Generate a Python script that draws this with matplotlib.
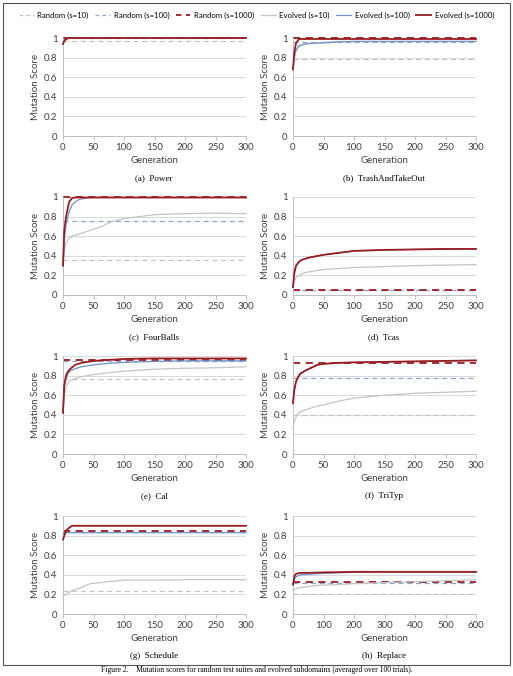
import numpy as np
import matplotlib.pyplot as plt
from matplotlib.lines import Line2D
from matplotlib.patches import Rectangle

# panel titles
titles = ["(a)  Power", "(b)  TrashAndTakeOut", "(c)  FourBalls", "(d)  Tcas",
          "(e)  Cal", "(f)  TriTyp", "(g)  Schedule", "(h)  Replace"]

# generations sampled for each panel
gens_a = [0, 2, 5, 10, 15, 300]
gens_b = [0, 2, 5, 10, 15, 20, 30, 50, 75, 100, 150, 200, 300]
gens_c = [0, 2, 5, 10, 15, 20, 25, 30, 40, 50, 60, 70, 80, 100, 125, 150, 200, 250, 300]
gens_d = [0, 2, 5, 10, 15, 25, 50, 75, 100, 150, 200, 250, 300]
gens_e = [0, 2, 5, 8, 12, 20, 30, 50, 75, 100, 150, 200, 250, 300]
gens_f = [0, 2, 5, 8, 12, 20, 30, 40, 50, 75, 100, 150, 200, 250, 300]
gens_g = [0, 5, 10, 15, 20, 30, 40, 45, 60, 75, 100, 150, 200, 250, 300]
gens_h = [0, 5, 10, 25, 50, 75, 100, 150, 200, 300, 400, 500, 600]

# random baselines (s=10, s=100, s=1000)
rand_a = [0.965, 1.0, 1.0]
rand_b = [0.79, 0.96, 1.0]
rand_c = [0.36, 0.76, 1.0]
rand_d = [0.055, 0.055, 0.055]
rand_e = [0.77, 0.945, 0.955]
rand_f = [0.40, 0.78, 0.925]
rand_g = [0.235, 0.84, 0.85]
rand_h = [0.20, 0.32, 0.325]

# evolved s=10
ev10_a = [0.94, 0.97, 0.99, 1.0, 1.0, 1.0]
ev10_b = [0.68, 0.8, 0.87, 0.91, 0.93, 0.94, 0.945, 0.955, 0.965, 0.965, 0.965, 0.965, 0.965]
ev10_c = [0.30, 0.45, 0.53, 0.58, 0.6, 0.61, 0.62, 0.63, 0.65, 0.67, 0.69, 0.72, 0.75, 0.78, 0.8, 0.82, 0.83, 0.835, 0.83]
ev10_d = [0.08, 0.14, 0.18, 0.2, 0.22, 0.235, 0.26, 0.27, 0.28, 0.29, 0.30, 0.305, 0.31]
ev10_e = [0.42, 0.6, 0.68, 0.72, 0.75, 0.77, 0.79, 0.81, 0.83, 0.845, 0.865, 0.875, 0.88, 0.89]
ev10_f = [0.27, 0.33, 0.38, 0.41, 0.43, 0.45, 0.47, 0.49, 0.50, 0.54, 0.57, 0.60, 0.62, 0.63, 0.64]
ev10_g = [0.18, 0.2, 0.22, 0.24, 0.25, 0.27, 0.3, 0.31, 0.32, 0.33, 0.345, 0.345, 0.35, 0.35, 0.35]
ev10_h = [0.24, 0.25, 0.26, 0.27, 0.28, 0.29, 0.295, 0.3, 0.31, 0.32, 0.33, 0.34, 0.35]

# evolved s=100
ev100_a = [0.94, 0.97, 0.99, 1.0, 1.0, 1.0]
ev100_b = [0.68, 0.8, 0.88, 0.92, 0.93, 0.94, 0.945, 0.95, 0.96, 0.965, 0.965, 0.965, 0.965]
ev100_c = [0.30, 0.55, 0.72, 0.85, 0.92, 0.95, 0.97, 0.98, 0.99, 0.995, 0.995, 0.995, 0.995, 0.995, 0.995, 0.995, 0.995, 0.995, 0.995]
ev100_d = [0.08, 0.22, 0.3, 0.34, 0.36, 0.38, 0.41, 0.43, 0.45, 0.46, 0.465, 0.47, 0.47]
ev100_e = [0.42, 0.68, 0.77, 0.82, 0.85, 0.87, 0.89, 0.91, 0.925, 0.935, 0.945, 0.95, 0.95, 0.95]
ev100_f = [0.52, 0.65, 0.74, 0.78, 0.82, 0.85, 0.88, 0.91, 0.92, 0.93, 0.935, 0.94, 0.945, 0.95, 0.955]
ev100_g = [0.82, 0.83, 0.83, 0.83, 0.83, 0.83, 0.83, 0.83, 0.83, 0.83, 0.83, 0.83, 0.83, 0.83, 0.83]
ev100_h = [0.30, 0.36, 0.38, 0.4, 0.405, 0.41, 0.415, 0.42, 0.425, 0.43, 0.43, 0.43, 0.43]

# evolved s=1000
ev1000_a = [0.94, 0.97, 0.99, 1.0, 1.0, 1.0]
ev1000_b = [0.68, 0.85, 0.95, 0.99, 0.99, 0.99, 0.99, 0.99, 0.99, 0.99, 0.99, 0.99, 0.99]
ev1000_c = [0.30, 0.65, 0.8, 0.95, 0.99, 0.995, 0.995, 0.995, 0.995, 0.995, 0.995, 0.995, 0.995, 0.995, 0.995, 0.995, 0.995, 0.995, 0.995]
ev1000_d = [0.08, 0.22, 0.3, 0.34, 0.36, 0.38, 0.41, 0.43, 0.45, 0.46, 0.465, 0.47, 0.47]
ev1000_e = [0.42, 0.7, 0.8, 0.84, 0.87, 0.91, 0.93, 0.95, 0.96, 0.97, 0.975, 0.975, 0.975, 0.975]
ev1000_f = [0.52, 0.65, 0.74, 0.78, 0.82, 0.85, 0.88, 0.91, 0.92, 0.93, 0.935, 0.94, 0.945, 0.95, 0.955]
ev1000_g = [0.76, 0.85, 0.88, 0.9, 0.9, 0.9, 0.9, 0.9, 0.9, 0.9, 0.9, 0.9, 0.9, 0.9, 0.9]
ev1000_h = [0.30, 0.39, 0.41, 0.42, 0.42, 0.422, 0.425, 0.427, 0.43, 0.43, 0.43, 0.43, 0.43]

panels = [
    (gens_a, rand_a, ev10_a, ev100_a, ev1000_a, 300),
    (gens_b, rand_b, ev10_b, ev100_b, ev1000_b, 300),
    (gens_c, rand_c, ev10_c, ev100_c, ev1000_c, 300),
    (gens_d, rand_d, ev10_d, ev100_d, ev1000_d, 300),
    (gens_e, rand_e, ev10_e, ev100_e, ev1000_e, 300),
    (gens_f, rand_f, ev10_f, ev100_f, ev1000_f, 300),
    (gens_g, rand_g, ev10_g, ev100_g, ev1000_g, 300),
    (gens_h, rand_h, ev10_h, ev100_h, ev1000_h, 600),
]

c10 = "#c4c4c4"
c100 = "#6f93c9"
c1000 = "#9b1c20"
rand_styles = [(c10, 0.9), ("#8aa6d0", 0.9), (c1000, 1.3)]
ev_styles = [(c10, 0.9), (c100, 0.9), (c1000, 1.3)]

W, H = 513, 676
fig = plt.figure(figsize=(W / 100, H / 100), dpi=100)
sans = "Lato"
serif = "Liberation Serif"

# frame around figure
fig.add_artist(Rectangle((3 / W, 1 - 665 / H), 507 / W, 662 / H, transform=fig.transFigure,
                         fill=False, lw=0.8, ec="#555555"))

lefts = [63, 293]
tops = [38, 197, 356, 516]
for i, (gens, rand, e10, e100, e1000, xmax) in enumerate(panels):
    r, c = divmod(i, 2)
    x0 = lefts[c]
    y0 = tops[r]
    ax = fig.add_axes([x0 / W, 1 - (y0 + 98) / H, 183 / W, 98 / H])
    ax.set_xlim(0, xmax)
    ax.set_ylim(0, 1)
    for y in [0.2, 0.4, 0.6, 0.8, 1.0]:
        ax.axhline(y, color="#d9d9d9", lw=0.7, zorder=0)
    for val, (col, lw) in zip(rand, rand_styles):
        ax.plot([0, xmax], [val, val], color=col, lw=lw, ls=(0, (4, 3)), clip_on=False, zorder=2)
    for ys, (col, lw) in zip([e10, e100, e1000], ev_styles):
        ax.plot(gens, ys, color=col, lw=lw, clip_on=False, zorder=3)
    for s in ["top", "right"]:
        ax.spines[s].set_visible(False)
    ax.spines["left"].set_color("#bfbfbf")
    ax.spines["bottom"].set_color("#bfbfbf")
    ax.spines["left"].set_linewidth(0.7)
    ax.spines["bottom"].set_linewidth(0.7)
    ax.set_yticks([0, 0.2, 0.4, 0.6, 0.8, 1])
    ax.set_yticklabels(["0", "0.2", "0.4", "0.6", "0.8", "1"])
    if xmax == 600:
        ax.set_xticks(range(0, 601, 100))
    else:
        ax.set_xticks(range(0, 301, 50))
    ax.tick_params(axis="y", length=0, labelsize=7, colors="#404040", pad=4)
    ax.tick_params(axis="x", length=3, width=0.7, color="#bfbfbf", labelsize=7,
                   labelcolor="#404040", pad=2)
    for lab in ax.get_xticklabels() + ax.get_yticklabels():
        lab.set_family(sans)
    ax.set_xlabel("Generation", fontsize=7, family=sans, color="#404040", labelpad=3)
    ax.set_ylabel("Mutation Score", fontsize=7, family=sans, color="#404040", labelpad=3)
    ax.set_facecolor("none")
    fig.text((x0 + 91) / W, 1 - (y0 + 140) / H, titles[i], ha="center", va="center",
             fontsize=6.5, family=serif)

# legend
labels = ["Random (s=10)", "Random (s=100)", "Random (s=1000)",
          "Evolved (s=10)", "Evolved (s=100)", "Evolved (s=1000)"]
handles = [Line2D([], [], color=c, lw=lw, ls=(0, (3, 2.5))) for c, lw in rand_styles]
handles += [Line2D([], [], color=c, lw=lw) for c, lw in ev_styles]
fig.legend(handles, labels, loc="center", bbox_to_anchor=(0.5, 1 - 15 / H), ncol=6,
           frameon=False, prop={"family": sans, "size": 5.6}, handlelength=1.9,
           columnspacing=0.8, handletextpad=0.5, borderpad=0)

# figure caption (cut off at bottom in the original)
fig.text(0.5, 1 - 670 / H, "Figure 2.    Mutation scores for random test suites and evolved subdomains (averaged over 100 trials).",
         ha="center", va="center", fontsize=5.5, family=serif)

fig.savefig("out.png", dpi=100)
